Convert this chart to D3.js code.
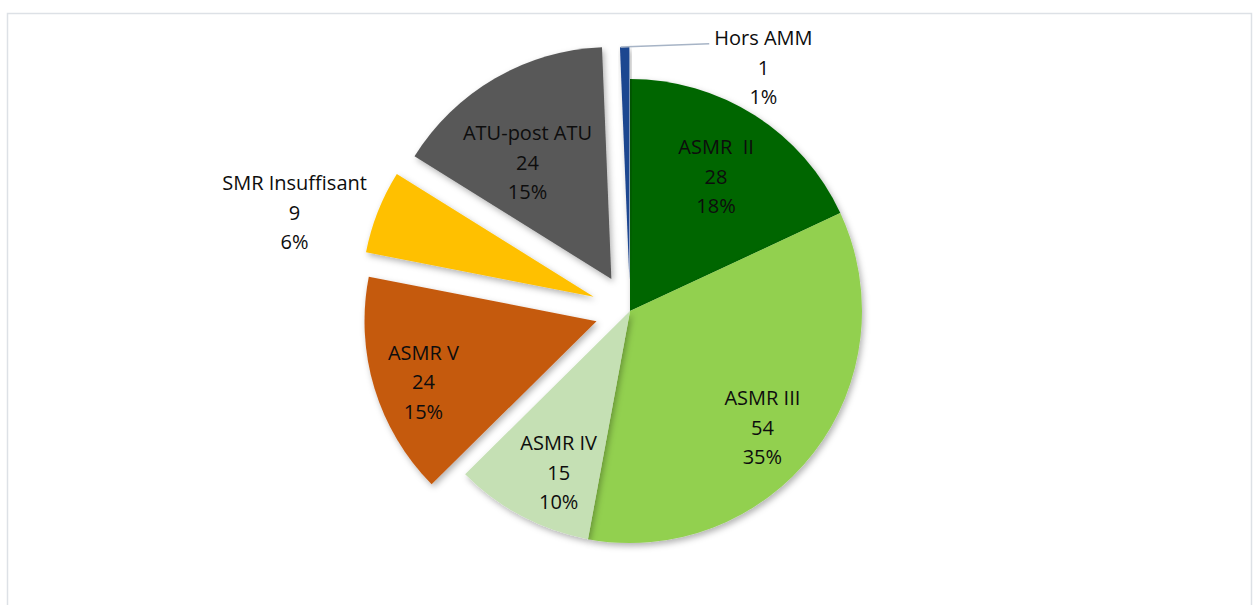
<!DOCTYPE html>
<html>
<head>
<meta charset="utf-8">
<script src="https://cdn.jsdelivr.net/npm/d3@7"></script>
<style>
  body { margin: 0; background: #fff; }
  text { font-family: "Open Sans", Lato, sans-serif; font-size: 20px; fill: #0d0d0d; white-space: pre; }
</style>
</head>
<body>
<div id="chart"></div>
<script>
// data
var categories = ["ASMR  II", "ASMR III", "ASMR IV", "ASMR V", "SMR Insuffisant", "ATU-post ATU", "Hors AMM"];
var counts = [28, 54, 15, 24, 9, 24, 1];
var percents = ["18%", "35%", "10%", "15%", "6%", "15%", "1%"];
var colors = ["#006600", "#92d050", "#c5e0b4", "#c55a11", "#ffc000", "#595959", "#1f4690"];

// layout
var width = 1253, height = 605;
var cx = 630, cy = 311, radius = 232;
var explode = [0, 0, 0, 35, 39, 37, 32];
var labelRatio = [0.69, 0.76, 0.76, 0.79, 1.34, 0.62, 1.08];
var labelShift = [0, 3.6, -4, -2.4, -5.7, -5.5, 33.5]; // degrees
var lineGap = 29.5;

var svg = d3.select("#chart").append("svg").attr("width", width).attr("height", height);

// chart border
svg.append("rect").attr("x", 7.5).attr("y", 13.5).attr("width", 1244).attr("height", 620)
   .attr("fill", "none").attr("stroke", "#dde1e6").attr("stroke-width", 1.5);

var defs = svg.append("defs");
var f = defs.append("filter").attr("id", "shadow").attr("x", "-20%").attr("y", "-20%").attr("width", "140%").attr("height", "140%");
f.append("feDropShadow").attr("dx", 2).attr("dy", 3).attr("stdDeviation", 3)
 .attr("flood-color", "#000").attr("flood-opacity", 0.3);

var pie = d3.pie().sort(null).value(function(d) { return d; });
var arcs = pie(counts);
var arc = d3.arc().innerRadius(0).outerRadius(radius);

function toRad(deg) { return deg * Math.PI / 180; }
function offset(angle, d) { return [Math.sin(angle) * d, -Math.cos(angle) * d]; }

var chart = svg.append("g").attr("transform", "translate(" + cx + "," + cy + ")");

arcs.forEach(function(a, i) {
    var mid = (a.startAngle + a.endAngle) / 2;
    var o = offset(mid, explode[i]);
    a.ox = o[0]; a.oy = o[1]; a.mid = mid;
});

chart.selectAll("path.slice").data(arcs).enter().append("path")
    .attr("class", "slice")
    .attr("d", arc)
    .attr("transform", function(d) { return "translate(" + d.ox + "," + d.oy + ")"; })
    .attr("fill", function(d, i) { return colors[i]; })
    .attr("filter", "url(#shadow)");

// labels: three lines (name, count, percent)
arcs.forEach(function(a, i) {
    var ang = a.mid + toRad(labelShift[i]);
    var p = offset(ang, radius * labelRatio[i]);
    var lx = a.ox + p[0], ly = a.oy + p[1];
    var g = chart.append("g").attr("transform", "translate(" + lx + "," + ly + ")");
    [categories[i], String(counts[i]), percents[i]].forEach(function(t, k) {
        g.append("text").attr("text-anchor", "middle").attr("dominant-baseline", "central")
         .attr("y", (k - 1) * lineGap).text(t);
    });
    a.lx = lx; a.ly = ly; a.g = g;
});

// leader line for the tiny slice
var last = arcs[arcs.length - 1];
var tip = offset(last.mid, radius);
var hx = last.ox + tip[0], hy = last.oy + tip[1];
var labelW = last.g.select("text").node().getComputedTextLength();
chart.append("line")
    .attr("x1", hx - 4).attr("y1", hy)
    .attr("x2", last.lx - labelW / 2 - 5).attr("y2", last.ly - lineGap + 6)
    .attr("stroke", "#a7b4c6").attr("stroke-width", 1.5);
</script>
</body>
</html>
